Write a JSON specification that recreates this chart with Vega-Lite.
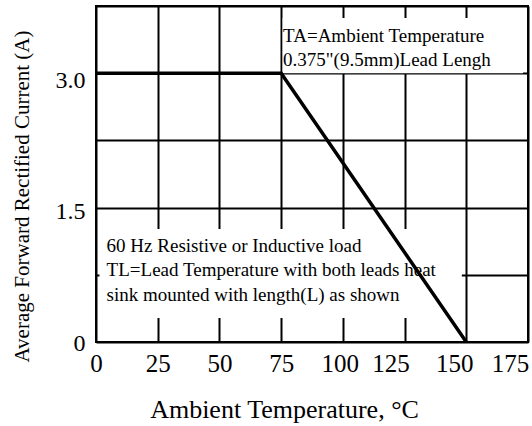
{
  "$schema": "https://vega.github.io/schema/vega-lite/v6.json",
  "width": 432,
  "height": 336,
  "autosize": "none",
  "padding": {"left": 96, "top": 6, "right": 4, "bottom": 84},
  "background": "white",
  "config": {
    "view": {"stroke": "black", "strokeWidth": 2},
    "font": "Liberation Serif",
    "axis": {
      "gridColor": "black", "gridWidth": 2, "gridOpacity": 1,
      "domain": false, "ticks": false, "tickSize": 0,
      "labelColor": "black", "titleColor": "black",
      "labelFont": "Liberation Serif", "titleFont": "Liberation Serif",
      "titleFontWeight": "normal"
    }
  },
  "datasets": {
    "curve": [
      {"temp": 0, "current": 3.0},
      {"temp": 75, "current": 3.0},
      {"temp": 150, "current": 0}
    ],
    "boxes": [
      {"x1": 75.6, "x2": 173, "y1": 3.616, "y2": 3.0},
      {"x1": 1.4, "x2": 148.2, "y1": 1.26, "y2": 0.268}
    ],
    "notes": [
      {"tx": 75.8, "ty": 3.348, "label": "TA=Ambient Temperature"},
      {"tx": 75.8, "ty": 3.08, "label": "0.375\"(9.5mm)Lead Lengh"},
      {"tx": 4.3, "ty": 1.004, "label": "60 Hz Resistive or Inductive load"},
      {"tx": 4.3, "ty": 0.737, "label": "TL=Lead Temperature with both leads heat"},
      {"tx": 4.3, "ty": 0.458, "label": "sink mounted with length(L) as shown"}
    ]
  },
  "layer": [
    {
      "data": {"name": "boxes"},
      "mark": {"type": "rect", "fill": "white", "stroke": null},
      "encoding": {
        "x": {"field": "x1", "type": "quantitative",
          "scale": {"domain": [0, 175], "nice": false, "zero": false},
          "axis": {
            "values": [0, 25, 50, 75, 100, 125, 150, 175],
            "grid": true,
            "title": "Ambient Temperature, °C",
            "titleFontSize": 26,
            "titleX": 188, "titleY": 75, "titleAlign": "center", "titleBaseline": "alphabetic",
            "labelFontSize": 25,
            "labelBaseline": "alphabetic",
            "labelPadding": 29,
            "labelFlush": false,
            "labelOverlap": false,
            "labelOffset": {
              "condition": [
                {"test": "datum.value == 100", "value": -3},
                {"test": "datum.value == 125", "value": -14},
                {"test": "datum.value == 150", "value": -12},
                {"test": "datum.value == 175", "value": -18}
              ],
              "value": 0
            }
          }
        },
        "x2": {"field": "x2"},
        "y": {"field": "y1", "type": "quantitative",
          "scale": {"domain": [0, 3.75], "nice": false, "zero": false},
          "axis": {
            "values": [0, 0.75, 1.5, 2.25, 3.0, 3.75],
            "labelExpr": "datum.value == 0 ? '0' : datum.value == 1.5 ? '1.5' : datum.value == 3 ? '3.0' : ''",
            "grid": true,
            "title": "Average Forward Rectified Current (A)",
            "titleFontSize": 21,
            "titleX": -68, "titleY": 190, "titleAlign": "center", "titleBaseline": "alphabetic", "titleAngle": -90,
            "labelFontSize": 24,
            "labelPadding": 11,
            "labelBaseline": "middle",
            "labelOverlap": false,
            "labelOffset": {
              "condition": [
                {"test": "datum.value == 3", "value": 7},
                {"test": "datum.value == 1.5", "value": 4}
              ],
              "value": 1
            }
          }
        },
        "y2": {"field": "y2"}
      }
    },
    {
      "data": {"name": "notes"},
      "mark": {"type": "text", "align": "left", "baseline": "alphabetic", "fontSize": 19, "font": "Liberation Serif", "color": "black"},
      "encoding": {
        "x": {"field": "tx", "type": "quantitative"},
        "y": {"field": "ty", "type": "quantitative"},
        "text": {"field": "label"}
      }
    },
    {
      "data": {"name": "curve"},
      "mark": {"type": "line", "color": "black", "strokeWidth": 3.5, "clip": true},
      "encoding": {
        "x": {"field": "temp", "type": "quantitative"},
        "y": {"field": "current", "type": "quantitative"}
      }
    }
  ]
}
